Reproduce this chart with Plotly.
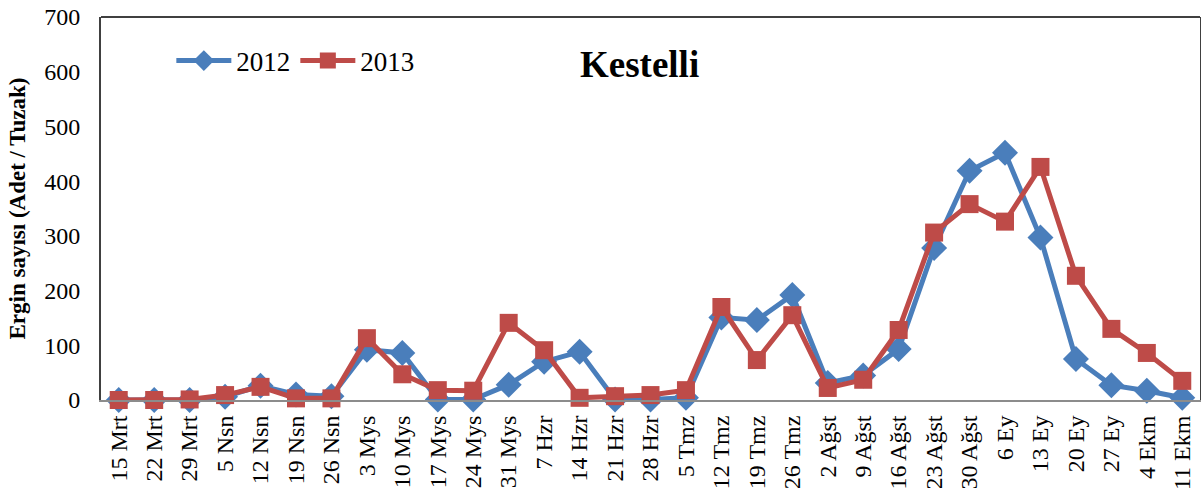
import plotly.graph_objects as go

categories = ["15 Mrt", "22 Mrt", "29 Mrt", "5 Nsn", "12 Nsn", "19 Nsn", "26 Nsn",
              "3 Mys", "10 Mys", "17 Mys", "24 Mys", "31 Mys", "7 Hzr", "14 Hzr",
              "21 Hzr", "28 Hzr", "5 Tmz", "12 Tmz", "19 Tmz", "26 Tmz", "2 Ağst",
              "9 Ağst", "16 Ağst", "23 Ağst", "30 Ağst", "6 Ey", "13 Ey", "20 Ey",
              "27 Ey", "4 Ekm", "11 Ekm"]

values_2012 = [0, 0, 0, 6, 26, 10, 7, 92, 86, 1, 1, 28, 70, 88, 1, 1, 4,
               151, 146, 192, 31, 45, 93, 278, 419, 452, 297, 75, 27, 17, 4]

values_2013 = [0, 0, 1, 9, 24, 3, 3, 113, 47, 18, 17, 141, 91, 4, 7, 9, 18,
               170, 73, 155, 22, 37, 128, 306, 358, 326, 426, 227, 130, 86, 35]

y_ticks = [0, 100, 200, 300, 400, 500, 600, 700]

BLUE = "#4A7EBB"
RED = "#BE4B48"
FONT = "Liberation Serif"

fig = go.Figure()
fig.add_trace(go.Scatter(
    x=categories, y=values_2012, name="2012", mode="lines+markers",
    line=dict(color=BLUE, width=5),
    marker=dict(symbol="diamond", size=20, color=BLUE),
    cliponaxis=False,
))
fig.add_trace(go.Scatter(
    x=categories, y=values_2013, name="2013", mode="lines+markers",
    line=dict(color=RED, width=5),
    marker=dict(symbol="square", size=18, color=RED),
    cliponaxis=False,
))

fig.update_layout(
    width=1201, height=488,
    margin=dict(l=101, r=1, t=17, b=88, autoexpand=False),
    paper_bgcolor="white", plot_bgcolor="white",
    font=dict(family=FONT, color="black", size=24),
    showlegend=True,
    legend=dict(
        orientation="h", x=0.064, y=0.885, xanchor="left", yanchor="middle",
        font=dict(family=FONT, size=27, color="black"),
        bgcolor="rgba(0,0,0,0)", itemwidth=55, traceorder="normal",
    ),
    xaxis=dict(
        type="category", tickangle=-90, showgrid=False,
        showline=True, linecolor="#8C8C8C", linewidth=2,
        ticks="outside", ticklen=4, tickcolor="rgba(0,0,0,0)",
        tickfont=dict(family=FONT, size=24, color="black"),
        range=[-0.5, len(categories) - 0.5], automargin=False,
    ),
    yaxis=dict(
        range=[0, 700], tickvals=y_ticks, showgrid=False, zeroline=False,
        showline=True, linecolor="#404040", linewidth=2, mirror=True,
        ticks="outside", ticklen=14, tickcolor="rgba(0,0,0,0)",
        tickfont=dict(family=FONT, size=24, color="black"),
        automargin=False,
        title=dict(text="<b>Ergin sayısı (Adet / Tuzak)</b>",
                   font=dict(family=FONT, size=23, color="black"), standoff=12),
    ),
    shapes=[dict(type="line", xref="paper", yref="paper", x0=0, x1=1, y0=1, y1=1,
                 line=dict(color="#404040", width=2))],
    annotations=[dict(text="<b>Kestelli</b>", xref="paper", yref="paper",
                      x=0.49, y=0.875, xanchor="center", yanchor="middle",
                      showarrow=False, font=dict(family=FONT, size=37, color="black"))],
)

fig.write_html("out.html", config={"displayModeBar": False},
               post_script="document.body.style.margin='0';document.body.style.overflow='hidden';")
